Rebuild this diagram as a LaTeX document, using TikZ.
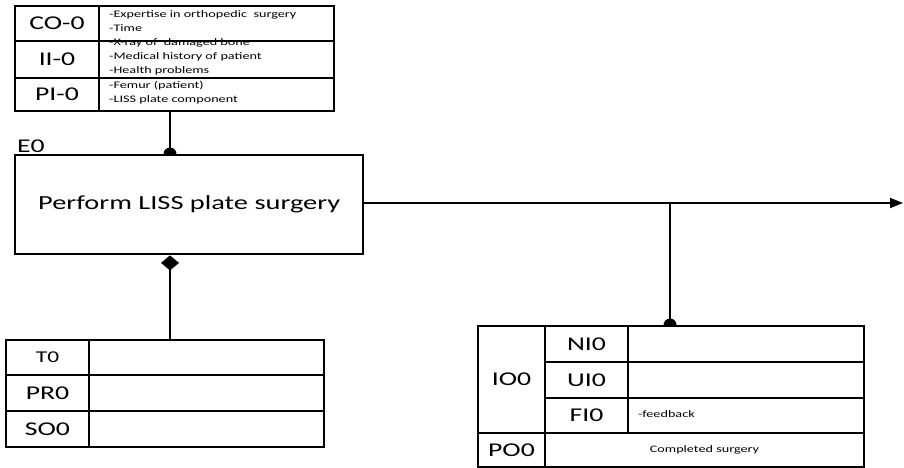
\documentclass[tikz,border=0pt]{standalone}
\usepackage{fontspec}
\setmainfont[FakeStretch=1.42]{Carlito}
\usetikzlibrary{arrows.meta}
\tikzset{
  cell/.style={draw, line width=2pt, inner sep=0pt, anchor=north west, fill=white},
  lbl/.style={font=\fontsize{19.5}{22}\selectfont},
  small/.style={font=\fontsize{10}{14}\selectfont, anchor=west, inner sep=0pt},
  conn/.style={line width=1.8pt},
  dot/.style={fill=black},
}
\newcommand{\lines}[1]{\begin{tabular}{@{}l@{}}#1\end{tabular}}
\begin{document}
\begin{tikzpicture}[x=1pt,y=-1pt]
\useasboundingbox (0,0) rectangle (904,468);
% top table
\node[cell, lbl, minimum width=84pt, minimum height=35pt] (colbl) at (14,5) {CO-0};
\node[cell, minimum width=235pt, minimum height=35pt] (cotxt) at (98,5) {};
\node[cell, lbl, minimum width=84pt, minimum height=37pt] (iilbl) at (14,40) {II-0};
\node[cell, minimum width=235pt, minimum height=37pt] (iitxt) at (98,40) {};
\node[cell, lbl, minimum width=84pt, minimum height=33pt] (pilbl) at (14,77) {PI-0};
\node[cell, minimum width=235pt, minimum height=33pt] (pitxt) at (98,77) {};
\node[small] (cot) at (109,22) {\lines{-Expertise in orthopedic\ \ surgery\\-Time}};
\node[small] (iit) at (109,57) {\lines{-X-ray of\ \ damaged bone\\-Medical history of patient\\-Health problems}};
\node[small] (pit) at (109,92.5) {\lines{-Femur (patient)\\-LISS plate component}};
% main box
\node[anchor=west, font=\fontsize{19.5}{22}\selectfont, inner sep=0pt] (e0lbl) at (17,146) {E0};
\node[cell, line width=2.4pt, minimum width=348pt, minimum height=99pt, font=\fontsize{20}{24}\selectfont] (e0) at (14,154) {Perform LISS plate surgery};
% bottom left table
\node[cell, minimum width=83pt, minimum height=35pt, font=\fontsize{16.5}{19}\selectfont] (t0) at (5,339) {T0};
\node[cell, minimum width=235pt, minimum height=35pt] (t0txt) at (88,339) {};
\node[cell, lbl, minimum width=83pt, minimum height=36pt] (pr0) at (5,374) {PR0};
\node[cell, minimum width=235pt, minimum height=36pt] (pr0txt) at (88,374) {};
\node[cell, lbl, minimum width=83pt, minimum height=36pt] (so0) at (5,410) {SO0};
\node[cell, minimum width=235pt, minimum height=36pt] (so0txt) at (88,410) {};
% bottom right table
\node[cell, lbl, minimum width=67pt, minimum height=107pt] (io0) at (477,325) {IO0};
\node[cell, lbl, minimum width=83pt, minimum height=36pt] (ni0) at (544,325) {NI0};
\node[cell, minimum width=236pt, minimum height=36pt] (ni0txt) at (627,325) {};
\node[cell, lbl, minimum width=83pt, minimum height=36pt] (ui0) at (544,361) {UI0};
\node[cell, minimum width=236pt, minimum height=36pt] (ui0txt) at (627,361) {};
\node[cell, lbl, minimum width=83pt, minimum height=35pt] (fi0) at (544,397) {FI0};
\node[cell, minimum width=236pt, minimum height=35pt] (fi0txt) at (627,397) {};
\node[small, font=\fontsize{10}{12}\selectfont] (fb) at (638,414.5) {-feedback};
\node[cell, lbl, minimum width=67pt, minimum height=34pt] (po0) at (477,432) {PO0};
\node[cell, minimum width=319pt, minimum height=34pt, font=\fontsize{10}{12}\selectfont] (po0txt) at (544,432) {Completed surgery};
% connectors
\coordinate (tt) at (170,110);
\draw[conn] (tt) -- (tt |- e0.north);
\begin{scope}
  \clip (e0.north west) rectangle ([yshift=12pt]e0.north east);
  \fill[dot] (tt |- e0.north) circle[radius=6.5pt];
\end{scope}
\coordinate (bt) at (170,339);
\draw[conn, -{Diamond[length=15pt,width=18pt]}] (bt) -- (bt |- e0.south);
\coordinate (out) at (903,203);
\draw[conn, -{Triangle[length=13pt,width=10pt]}] (e0.east |- out) -- (out);
\coordinate (br) at (670,203);
\draw[conn] (br) -- (br |- ni0txt.north);
\begin{scope}
  \clip (ni0.north west) rectangle ([yshift=12pt]ni0txt.north east);
  \fill[dot] (br |- ni0txt.north) circle[radius=6.5pt];
\end{scope}
\end{tikzpicture}
\end{document}
